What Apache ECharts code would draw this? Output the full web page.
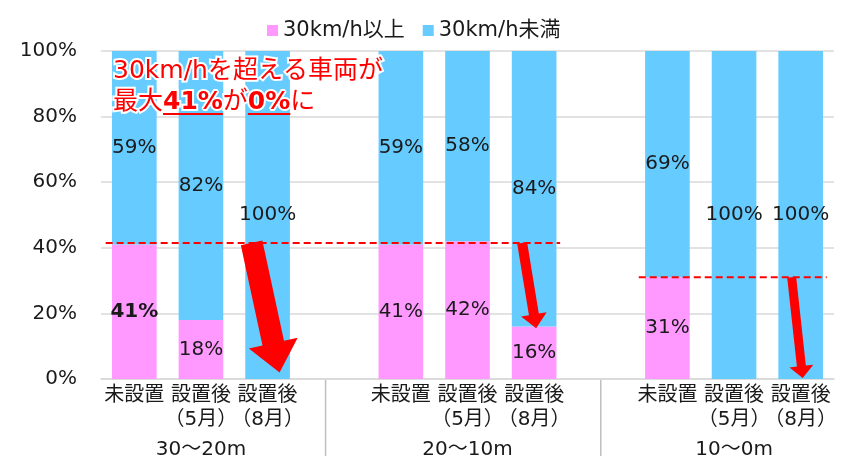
<!DOCTYPE html>
<html><head><meta charset="utf-8">
<script src="https://cdn.jsdelivr.net/npm/echarts@6/dist/echarts.min.js"></script>
<style>html,body{margin:0;padding:0;background:#fff}#c{width:854px;height:462px}</style>
</head><body><div id="c"></div>
<script>
const categories = ['未設置','設置後\n（5月）','設置後\n（8月）','','未設置','設置後\n（5月）','設置後\n（8月）','','未設置','設置後\n（5月）','設置後\n（8月）'];
const groupLabels = ['','30～20m','','','','20～10m','','','','10～0m',''];
const seriesNames = ['30km/h以上','30km/h未満'];
const over30 = [41,18,0,null,41,42,16,null,31,0,0];
const under30 = [59,82,100,null,59,58,84,null,69,100,100];
const boldLabelIndex = 0;
const annotationLine1 = '30km/hを超える車両が';
const annotationLine2 = [['最大',false],['41%',true],['が',false],['0%',true],['に',false]];
// reference (dashed) lines: from category, to category, level (%)
const refLines = [[0,6,41.5],[8,10,31]];
// arrows: category, start level, end level, x offsets (px), shaft width, head width, head length
const arrows = [[2,41.5,2,-16,12,22,50,30],[6,41.5,15.5,-12,2,10,26,14],[10,31,0.3,-9,2,9,24,12]];
const separatorSlots = [2.87,7];

const FONT = "'DejaVu Sans','Noto Sans CJK JP',sans-serif";
const PINK = '#FF99FF', BLUE = '#66CCFF';

const chart = echarts.init(document.getElementById('c'));
function lbl(v){ return v.value ? v.value + '%' : ''; }
chart.setOption({
  animation:false,
  textStyle:{fontFamily:FONT},
  legend:{top:15,left:262,itemWidth:11,itemHeight:11,itemGap:18,icon:'rect',
    textStyle:{fontSize:21,color:'#1a1a1a',fontFamily:FONT},data:seriesNames},
  grid:{left:101,right:20,top:51,bottom:83,containLabel:false},
  xAxis:[{type:'category',data:categories,axisTick:{show:false},
    axisLine:{lineStyle:{color:'#D9D9D9',width:1.5}},
    axisLabel:{interval:0,fontSize:20,color:'#1a1a1a',lineHeight:24,margin:5,fontFamily:FONT}},
   {type:'category',data:groupLabels,position:'bottom',offset:54,axisTick:{show:false},axisLine:{show:false},
    axisLabel:{interval:0,fontSize:20,color:'#1a1a1a',lineHeight:24,margin:5,fontFamily:FONT}}],
  yAxis:{type:'value',min:0,max:100,interval:20,
    axisLabel:{formatter:'{value}%',fontSize:20,color:'#1a1a1a',margin:24,fontFamily:FONT},
    splitLine:{lineStyle:{color:'#D9D9D9',width:1.5}}},
  series:[
    {name:seriesNames[0],type:'bar',stack:'s',barWidth:'67%',itemStyle:{color:PINK},
     data:over30.map((v,i)=> i===boldLabelIndex ? {value:v,label:{fontWeight:'bold'}} : (v===null?'-':v)),
     label:{show:true,position:'inside',formatter:lbl,fontSize:20,color:'#1a1a1a',fontFamily:FONT}},
    {name:seriesNames[1],type:'bar',stack:'s',barWidth:'67%',itemStyle:{color:BLUE},
     data:under30.map(v=>v===null?'-':v),
     label:{show:true,position:'inside',formatter:lbl,fontSize:20,color:'#1a1a1a',fontFamily:FONT}}
  ]
});

function px(c,v){ return chart.convertToPixel({xAxisIndex:0,yAxisIndex:0},[c,v]); }
const slot = px(1,0)[0]-px(0,0)[0];
const g = [];
// separators
const y0 = px(0,0)[1];
separatorSlots.forEach(s=>{
  const x = px(0,0)[0] + s*slot;
  g.push({type:'line',shape:{x1:x,y1:y0+1,x2:x,y2:456},style:{stroke:'#BFBFBF',lineWidth:1.5},z:5});
});
// dashed lines
refLines.forEach(([a,b,v])=>{
  const p1 = px(a,v), p2 = px(b,v);
  g.push({type:'line',shape:{x1:p1[0]-slot*0.43,y1:p1[1],x2:p2[0]+slot*0.39,y2:p2[1]},
    style:{stroke:'#FF0000',lineWidth:2,lineDash:[7,4]},z:20});
});
// arrows
arrows.forEach(([c,v1,v2,dx1,dx2,w,hw,hl])=>{
  const S = px(c,v1); S[0]+=dx1; const T = px(c,v2); T[0]+=dx2;
  const L = Math.hypot(T[0]-S[0],T[1]-S[1]); const ux=(T[0]-S[0])/L, uy=(T[1]-S[1])/L;
  const nx=-uy, ny=ux; const B=[T[0]-ux*hl,T[1]-uy*hl];
  const pts=[[S[0]+nx*w/2,S[1]+ny*w/2],[B[0]+nx*w/2,B[1]+ny*w/2],[B[0]+nx*hw/2,B[1]+ny*hw/2],T,
    [B[0]-nx*hw/2,B[1]-ny*hw/2],[B[0]-nx*w/2,B[1]-ny*w/2],[S[0]-nx*w/2,S[1]-ny*w/2]];
  g.push({type:'polygon',shape:{points:pts},style:{fill:'#FF0000'},z:25});
});
// annotation
const AF = 25;
const ctx = document.createElement('canvas').getContext('2d');
const ax = 113;
g.push({type:'text',x:ax,y:71,style:{text:annotationLine1,font:AF+'px '+FONT,fill:'#FF0000',
  stroke:'#fff',lineWidth:4,verticalAlign:'middle',align:'left'},z:30});
let cx = ax;
annotationLine2.forEach(([t,b])=>{
  const f = (b?'bold ':'')+AF+'px '+FONT;
  ctx.font = f; const w = ctx.measureText(t).width;
  g.push({type:'text',x:cx,y:102,style:{text:t,font:f,fill:'#FF0000',stroke:'#fff',lineWidth:4,verticalAlign:'middle',align:'left'},z:30});
  if(b) g.push({type:'rect',shape:{x:cx,y:113,width:w,height:2},style:{fill:'#FF0000'},z:31});
  cx += w;
});
chart.setOption({graphic:g});
</script></body></html>
